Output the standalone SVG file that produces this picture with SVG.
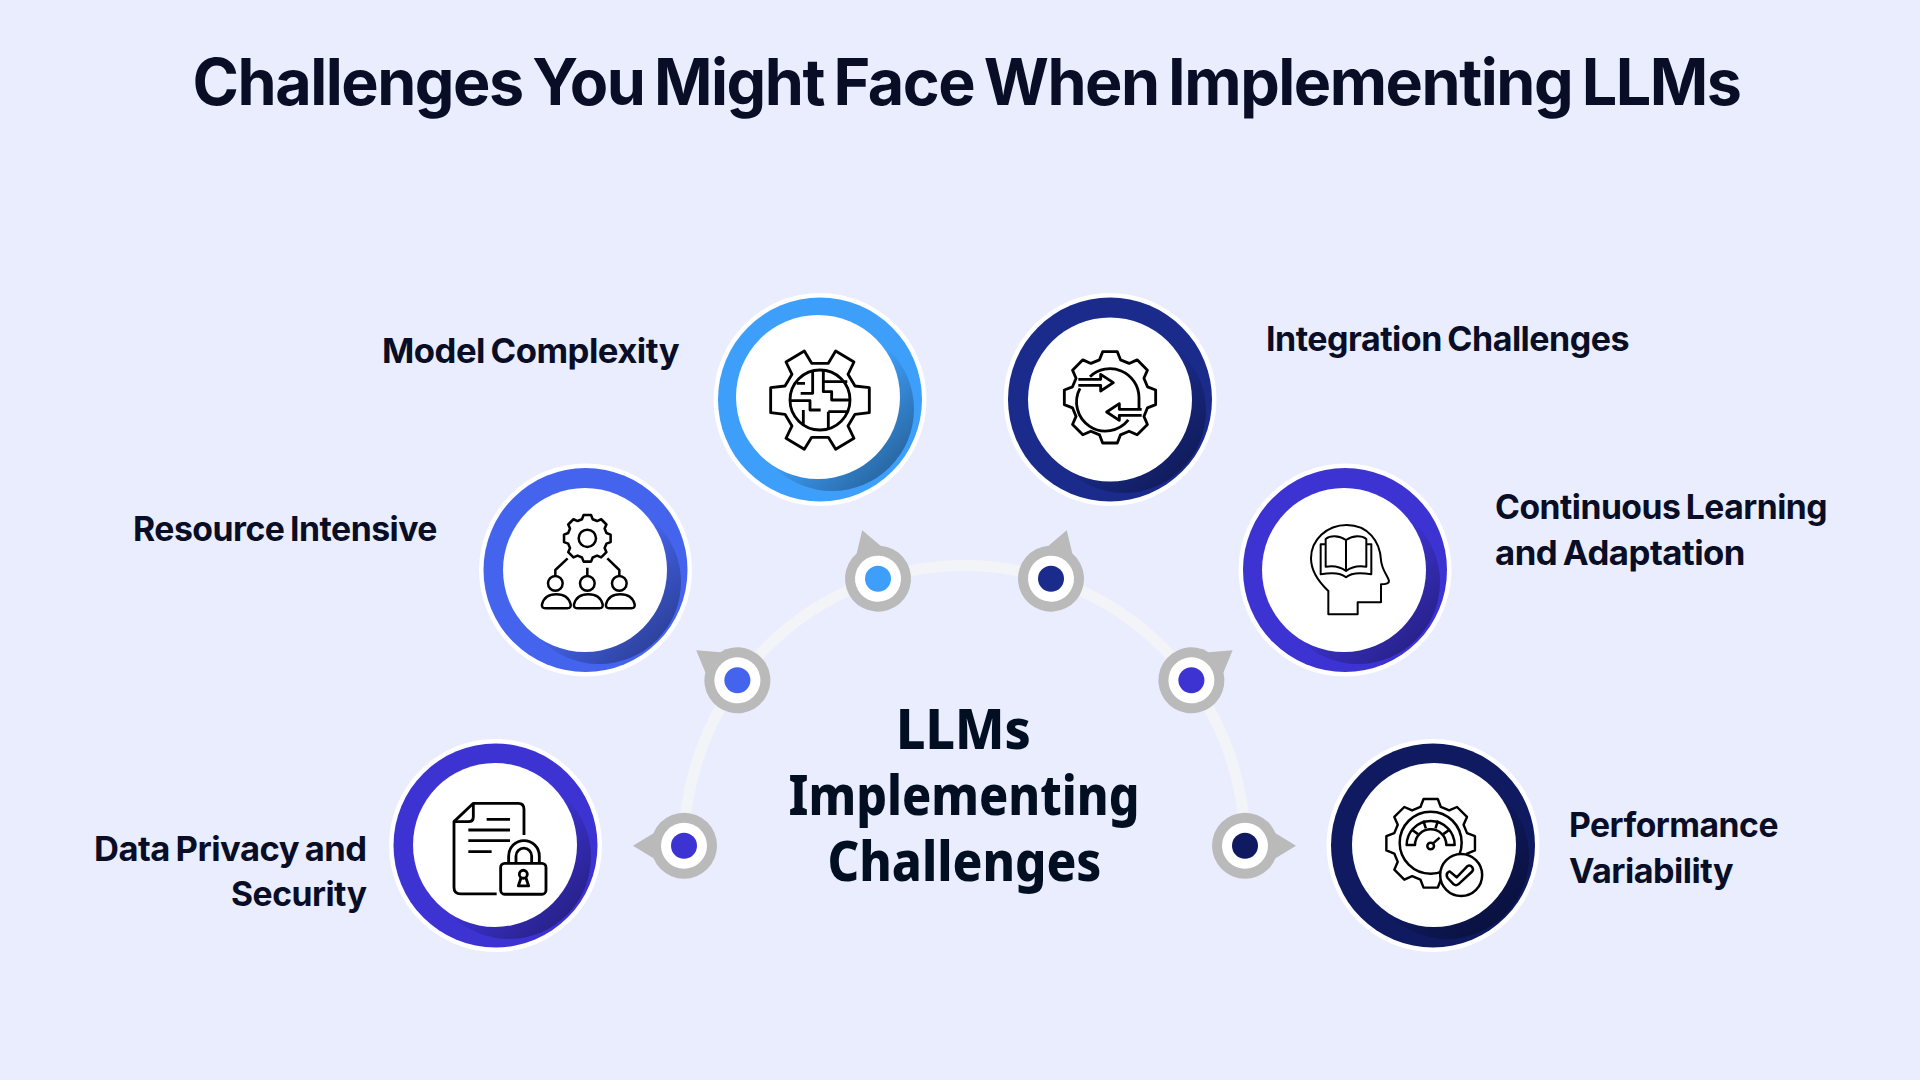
<svg xmlns="http://www.w3.org/2000/svg" width="1920" height="1080" viewBox="0 0 1920 1080">
<style>
.t{font-family:"Inter","Liberation Sans",sans-serif;fill:#0A0D26}
.title{font-size:64px;font-weight:700;letter-spacing:-1.5px;word-spacing:-4px}
.label{font-size:33.5px;font-weight:650;letter-spacing:-.5px;word-spacing:-2px}
.center{font-family:"Noto Sans","DejaVu Sans",sans-serif;font-size:55.500px;font-weight:800;fill:#020F22}
.halo{fill:#fff}
.core{fill:#fff}
.ic{fill:none;stroke:#000;stroke-width:8.500;stroke-linejoin:round;stroke-linecap:butt}
.thin{stroke-width:6}
.pin{fill:#BABABA}
</style>
<defs>
<linearGradient id="sh" x1="0.3" y1="0.3" x2="0.9" y2="0.9">
<stop offset="0.3" stop-color="#000" stop-opacity="0"/>
<stop offset="0.7" stop-color="#000" stop-opacity="0.22"/>
<stop offset="1" stop-color="#000" stop-opacity="0.38"/>
</linearGradient>
<path id="gear8" d="M-31.5,-112.5L-22,-137H22L31.5,-112.5L57.3,-101.7L81.5,-112.4L112.4,-81.5L101.8,-57.3L112.5,-31.5L137,-22V22L112.5,31.5L101.8,57.3L112.4,81.5L81.5,112.4L57.3,101.7L31.5,112.5L22,137H-22L-31.5,112.5L-57.3,101.7L-81.5,112.4L-112.4,81.5L-101.8,57.3L-112.5,31.5L-137,22V-22L-112.5,-31.5L-101.8,-57.3L-112.4,-81.5L-81.5,-112.4L-57.3,-101.7Z"/>
<g id="pin">
<polygon class="pin" points="-51,0 -30.5,-12.5 -30.5,12.5"/>
<circle class="pin" r="33"/>
<circle fill="#fff" r="23"/>
</g>
</defs>
<rect width="1920" height="1080" fill="#E9EDFE"/>
<text class="t title" x="192.5" y="105" textLength="1548" lengthAdjust="spacingAndGlyphs">Challenges You Might Face When Implementing LLMs</text>

<g id="connectors">
<path d="M684,846A280.5,280.5 0 0 1 1245,846" fill="none" stroke="#F3F4F7" stroke-width="11"/>
<g id="pin-data"><use href="#pin" transform="translate(684,845.7)"/><circle cx="684" cy="845.7" r="13" fill="#3D33D3"/></g>
<g id="pin-resource"><use href="#pin" transform="translate(737.4,680.3) rotate(36.1)"/><circle cx="737.4" cy="680.3" r="13" fill="#4564EE"/></g>
<g id="pin-model"><use href="#pin" transform="translate(878,578.7) rotate(72)"/><circle cx="878" cy="578.7" r="13" fill="#3E9FFB"/></g>
<g id="pin-integration"><use href="#pin" transform="translate(1051,578.7) rotate(108)"/><circle cx="1051" cy="578.7" r="13" fill="#1A2B8C"/></g>
<g id="pin-continuous"><use href="#pin" transform="translate(1191.4,680.3) rotate(143.9)"/><circle cx="1191.4" cy="680.3" r="13" fill="#3D33D3"/></g>
<g id="pin-performance"><use href="#pin" transform="translate(1245,845.7) rotate(180)"/><circle cx="1245" cy="845.7" r="13" fill="#0F1A60"/></g>
</g>

<g id="center-label">
<text class="center" x="896" y="749" textLength="135" lengthAdjust="spacingAndGlyphs">LLMs</text>
<text class="center" x="788.5" y="815" textLength="351" lengthAdjust="spacingAndGlyphs">Implementing</text>
<text class="center" x="827.5" y="881" textLength="274" lengthAdjust="spacingAndGlyphs">Challenges</text>
</g>

<g id="node-model">
<circle class="halo" cx="820" cy="399.5" r="106.5"/>
<circle cx="820" cy="399.5" r="102" fill="#3E9FFB"/>
<circle cx="832" cy="409" r="82" fill="url(#sh)"/>
<circle class="core" cx="818" cy="397" r="82"/>
<g class="ic" transform="translate(760,340) scale(.3333)">
<path d="M155,70L133,33L78,66L96,103L75,138L32,143V218L75,223L96,258L78,295L133,328L155,292H205L227,328L282,295L264,258L285,223L328,218V143L285,138L264,103L282,66L227,33L205,70Z"/>
<circle cx="180" cy="180" r="90"/>
<path d="M110,130H135M158,93V160H122M190,92V155H215V180H268M190,125H262M93,182H150V210H182M130,210V255M205,215H262M205,215V268"/>
</g>
<text class="t label" x="382" y="363" textLength="297" lengthAdjust="spacingAndGlyphs">Model Complexity</text>
</g>

<g id="node-integration">
<circle class="halo" cx="1110" cy="399.5" r="106.5"/>
<circle cx="1110" cy="399.5" r="102" fill="#1A2B8C"/>
<circle cx="1124" cy="411" r="82" fill="url(#sh)"/>
<circle class="core" cx="1110" cy="399.5" r="82"/>
<g class="ic" transform="translate(1050,340) scale(.3333)">
<use href="#gear8" transform="translate(180,172)"/>
<path d="M120,110A87,87 0 0 1 267,172V205M90,145A87,87 0 0 0 235,240"/>
<path d="M85,118H152V103L190,128L152,153V136H85" fill="#fff"/>
<path d="M275,226H208V241L170,216L208,191V208H275" fill="#fff"/>
</g>
<text class="t label" x="1266" y="351" textLength="363" lengthAdjust="spacingAndGlyphs">Integration Challenges</text>
</g>

<g id="node-resource">
<circle class="halo" cx="585.5" cy="570" r="106.5"/>
<circle cx="585.5" cy="570" r="102" fill="#4564EE"/>
<circle cx="599" cy="582" r="82" fill="url(#sh)"/>
<circle class="core" cx="585" cy="570" r="82"/>
<g class="ic" transform="translate(530,505) scale(.3333)" style="stroke-width:7.500">
<use href="#gear8" transform="translate(172,100) scale(.51)" style="stroke-width:15"/>
<circle cx="172" cy="100" r="26"/>
<path d="M172,188V212M113,160L76,195V212M232,160L268,195V212"/>
<circle cx="76" cy="235" r="22"/><circle cx="172" cy="235" r="22"/><circle cx="268" cy="235" r="22"/>
<path d="M46,310H112Q124,310 122,298Q114,268 79,268Q44,268 36,298Q34,310 46,310Z"/>
<path d="M142,310H208Q220,310 218,298Q210,268 175,268Q140,268 132,298Q130,310 142,310Z"/>
<path d="M238,310H304Q316,310 314,298Q306,268 271,268Q236,268 228,298Q226,310 238,310Z"/>
</g>
<text class="t label" x="133" y="541" textLength="304" lengthAdjust="spacingAndGlyphs">Resource Intensive</text>
</g>

<g id="node-continuous">
<circle class="halo" cx="1345" cy="570" r="106.5"/>
<circle cx="1345" cy="570" r="102" fill="#3D33D3"/>
<circle cx="1358" cy="582" r="82" fill="url(#sh)"/>
<circle class="core" cx="1344" cy="570" r="82"/>
<g class="ic thin" transform="translate(1285,515) scale(.3333)">
<path d="M130,228C100,200 78,170 78,130C78,75 125,30 185,30C250,30 285,80 288,135C290,165 310,185 312,198Q312,208 288,208V262H218V298H130Z"/>
<path d="M183,75C160,60 135,62 122,72V155C150,150 170,158 183,168C196,158 216,150 244,155V72C231,62 206,60 183,75ZM183,75V168"/>
<path d="M122,88H107V178C140,172 170,175 183,187C196,175 226,172 259,178V88H244"/>
</g>
<text class="t label" x="1495" y="519" textLength="332" lengthAdjust="spacingAndGlyphs">Continuous Learning</text>
<text class="t label" x="1495" y="565" textLength="250" lengthAdjust="spacingAndGlyphs">and Adaptation</text>
</g>

<g id="node-data">
<circle class="halo" cx="495.5" cy="845.5" r="106.5"/>
<circle cx="495.5" cy="845.5" r="102" fill="#3D33D3"/>
<circle cx="509" cy="857" r="82" fill="url(#sh)"/>
<circle class="core" cx="495" cy="845" r="82"/>
<g class="ic" transform="translate(370,450) scale(.3333)">
<path d="M380,1332H272Q252,1332 252,1312V1115L310,1060H445Q462,1060 462,1078V1155"/>
<path d="M310,1060V1100Q310,1115 295,1115H252"/>
<path d="M350,1108H420M295,1140H420M295,1172H420M295,1205H365"/>
<rect x="392" y="1240" width="136" height="93" rx="12"/>
<path d="M416,1240V1218A46,46 0 0 1 508,1218V1240M438,1240V1218A23,23 0 0 1 485,1218V1240"/>
<circle cx="460" cy="1273" r="12"/>
<path d="M453,1284L445,1308H476L468,1284"/>
</g>
<text class="t label" x="94" y="861" textLength="272.500" lengthAdjust="spacingAndGlyphs">Data Privacy and</text>
<text class="t label" x="231" y="906" textLength="135.500" lengthAdjust="spacingAndGlyphs">Security</text>
</g>

<g id="node-performance">
<circle class="halo" cx="1433" cy="845.5" r="106.5"/>
<circle cx="1433" cy="845.5" r="102" fill="#0F1A60"/>
<circle cx="1447" cy="857" r="82" fill="url(#sh)"/>
<circle class="core" cx="1434" cy="845" r="82"/>
<g class="ic" transform="translate(1375,790) scale(.3333)" style="stroke-width:7.500">
<use href="#gear8" transform="translate(167,160) scale(.97)"/>
<circle cx="167" cy="158" r="93"/>
<path d="M95,165A72,72 0 0 1 239,165H214A47,47 0 0 0 120,165Z"/>
<path d="M181.500,115.300L189.200,91.500M152.500,115.300L144.800,91.500M205,132.400L225.200,117.700M129,132.400L108.800,117.700"/>
<circle cx="167" cy="168" r="10"/>
<path d="M174,160L194,143"/>
<circle cx="258.500" cy="255" r="63" fill="#fff"/>
<path d="M225,245L245,262L278,228Q285,224 292,232Q297,240 290,246L250,283Q243,288 236,283L218,264Q212,255 218,248Q222,243 225,245Z"/>
</g>
<text class="t label" x="1569" y="837" textLength="209" lengthAdjust="spacingAndGlyphs">Performance</text>
<text class="t label" x="1569" y="883" textLength="164" lengthAdjust="spacingAndGlyphs">Variability</text>
</g>
</svg>
